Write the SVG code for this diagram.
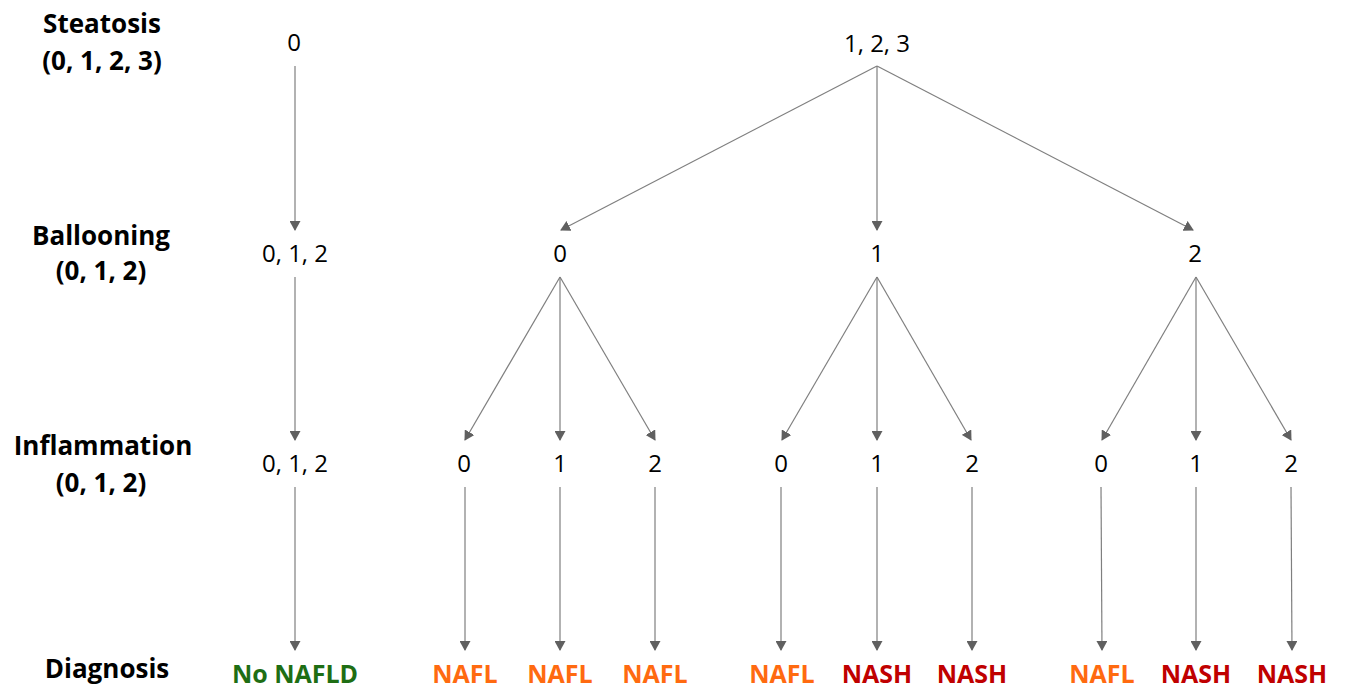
<svg xmlns="http://www.w3.org/2000/svg" width="1346" height="693" viewBox="0 0 1346 693">
<style>
.lbl{font-family:"Open Sans","Liberation Sans",sans-serif;font-weight:bold;font-size:26px;fill:#000;text-anchor:middle}
.val{font-family:"Open Sans","Liberation Sans",sans-serif;font-size:24px;fill:#000;text-anchor:middle}
.dx{font-family:"Open Sans","Liberation Sans",sans-serif;font-weight:bold;font-size:25px;text-anchor:middle}
.g{fill:#1E6E14}.o{fill:#FF6A10}.r{fill:#C00000}
.c line{stroke:#7f7f7f;stroke-width:1.2;marker-end:url(#ah)}
</style>
<defs>
<marker id="ah" markerWidth="11" markerHeight="11" refX="9" refY="5.5" orient="auto" markerUnits="userSpaceOnUse" viewBox="0 0 11 11">
<path d="M0,0 L10,5.5 L0,11 z" fill="#606060"/>
</marker>
</defs>
<rect width="1346" height="693" fill="#fff"/>
<g id="row-labels">
<text class="lbl" x="102" y="33">Steatosis</text>
<text class="lbl" x="102" y="70">(0, 1, 2, 3)</text>
<text class="lbl" x="101" y="245">Ballooning</text>
<text class="lbl" x="101" y="280">(0, 1, 2)</text>
<text class="lbl" x="103" y="455">Inflammation</text>
<text class="lbl" x="101" y="492">(0, 1, 2)</text>
<text class="lbl" x="107" y="678">Diagnosis</text>
</g>
<g id="steatosis">
<text class="val" x="294" y="51">0</text>
<text class="val" x="877" y="52">1, 2, 3</text>
</g>
<g id="ballooning">
<text class="val" x="295" y="262">0, 1, 2</text>
<text class="val" x="560" y="262">0</text>
<text class="val" x="877" y="262">1</text>
<text class="val" x="1195" y="262">2</text>
</g>
<g id="inflammation">
<text class="val" x="295" y="472">0, 1, 2</text>
<text class="val" x="464" y="472">0</text>
<text class="val" x="560" y="472">1</text>
<text class="val" x="655" y="472">2</text>
<text class="val" x="781" y="472">0</text>
<text class="val" x="877" y="472">1</text>
<text class="val" x="972" y="472">2</text>
<text class="val" x="1101" y="472">0</text>
<text class="val" x="1196" y="472">1</text>
<text class="val" x="1291" y="472">2</text>
</g>
<g id="diagnosis">
<text class="dx g" x="295" y="683">No NAFLD</text>
<text class="dx o" x="465" y="683">NAFL</text>
<text class="dx o" x="560" y="683">NAFL</text>
<text class="dx o" x="655" y="683">NAFL</text>
<text class="dx o" x="782" y="683">NAFL</text>
<text class="dx r" x="877" y="683">NASH</text>
<text class="dx r" x="972" y="683">NASH</text>
<text class="dx o" x="1102" y="683">NAFL</text>
<text class="dx r" x="1196" y="683">NASH</text>
<text class="dx r" x="1292" y="683">NASH</text>
</g>
<g id="connectors" class="c">
<line x1="295" y1="66" x2="295" y2="230"/>
<line x1="295" y1="277" x2="295" y2="440"/>
<line x1="295" y1="487" x2="295" y2="650"/>
<line x1="877" y1="66" x2="561" y2="230"/>
<line x1="877" y1="66" x2="877" y2="230"/>
<line x1="877" y1="66" x2="1193" y2="230"/>
<line x1="560" y1="277" x2="465" y2="440"/>
<line x1="560" y1="277" x2="560" y2="440"/>
<line x1="560" y1="277" x2="655" y2="440"/>
<line x1="877" y1="277" x2="782" y2="440"/>
<line x1="877" y1="277" x2="877" y2="440"/>
<line x1="877" y1="277" x2="971" y2="440"/>
<line x1="1196" y1="277" x2="1102" y2="440"/>
<line x1="1196" y1="277" x2="1196" y2="440"/>
<line x1="1196" y1="277" x2="1291" y2="440"/>
<line x1="465" y1="487" x2="465" y2="650"/>
<line x1="560" y1="487" x2="560" y2="650"/>
<line x1="655" y1="487" x2="655" y2="650"/>
<line x1="781" y1="487" x2="781" y2="650"/>
<line x1="877" y1="487" x2="877" y2="650"/>
<line x1="972" y1="487" x2="972" y2="650"/>
<line x1="1101" y1="487" x2="1102" y2="650"/>
<line x1="1196" y1="487" x2="1196" y2="650"/>
<line x1="1291" y1="487" x2="1292" y2="650"/>
</g>
</svg>
